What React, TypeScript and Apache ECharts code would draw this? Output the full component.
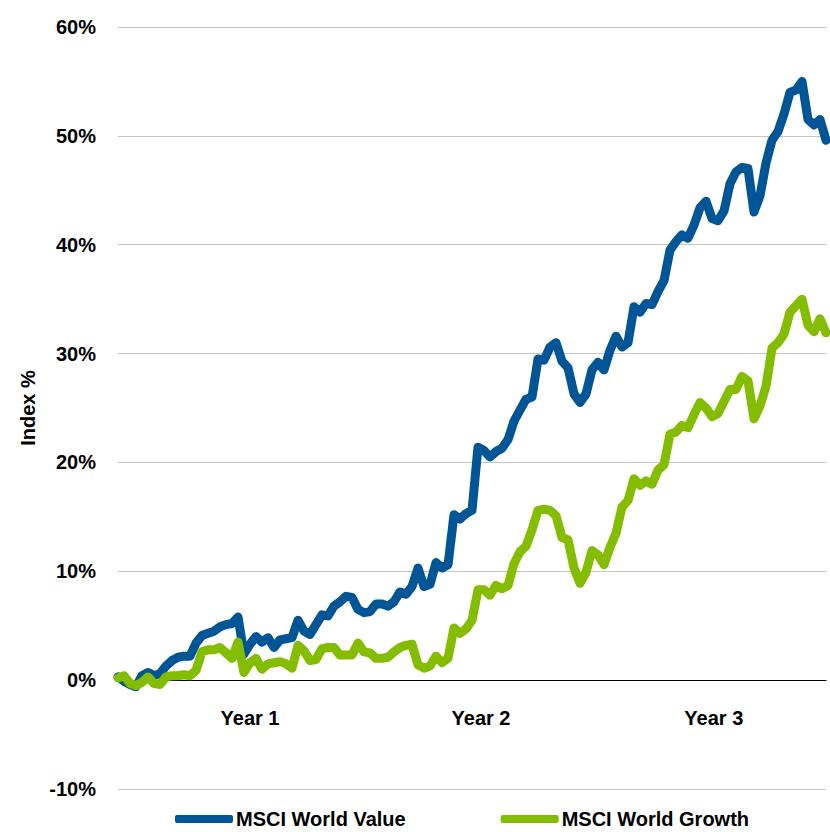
import React, { useEffect, useRef } from "react";
import * as echarts from "echarts";

const valueSeries: number[] = [
  0.3, -0.1, -0.4, -0.6, 0.4, 0.7, 0.4, 0.6, 1.3, 1.8,
  2.1, 2.2, 2.2, 3.4, 4.1, 4.3, 4.5, 4.9, 5.1, 5.2,
  5.8, 2.4, 3.3, 4.0, 3.5, 3.9, 3.0, 3.7, 3.8, 3.9,
  5.5, 4.5, 4.2, 5.1, 6.0, 5.9, 6.8, 7.2, 7.7, 7.6,
  6.5, 6.2, 6.3, 7.0, 7.0, 6.8, 7.2, 8.1, 7.9, 8.6,
  10.3, 8.6, 8.8, 10.8, 10.3, 10.6, 15.2, 14.8, 15.3, 15.6,
  21.4, 21.1, 20.5, 21.0, 21.3, 22.1, 23.8, 24.8, 25.8, 26.0,
  29.5, 29.4, 30.6, 31.0, 29.3, 28.7, 26.3, 25.5, 26.3, 28.5,
  29.2, 28.5, 30.3, 31.6, 30.6, 31.0, 34.3, 33.8, 34.6, 34.5,
  35.7, 36.7, 39.5, 40.3, 40.9, 40.6, 41.8, 43.4, 44.0, 42.4,
  42.2, 43.1, 45.6, 46.7, 47.1, 47.0, 43.0, 44.5, 47.5, 49.6,
  50.4, 52.0, 54.0, 54.2, 55.0, 51.5, 51.0, 51.5, 49.6,
];

const growthSeries: number[] = [
  0.2, 0.4, -0.3, -0.5, -0.2, 0.3, -0.3, -0.4, 0.3, 0.4,
  0.4, 0.5, 0.4, 0.9, 2.6, 2.8, 2.8, 3.0, 2.5, 2.0,
  3.5, 0.7, 1.6, 2.0, 1.0, 1.5, 1.6, 1.7, 1.5, 1.1,
  3.2, 2.7, 1.8, 1.9, 2.9, 3.0, 3.0, 2.3, 2.3, 2.3,
  3.4, 2.6, 2.5, 2.0, 2.0, 2.1, 2.6, 3.0, 3.2, 3.3,
  1.4, 1.1, 1.3, 2.2, 1.6, 2.0, 4.8, 4.3, 4.7, 5.5,
  8.3, 8.3, 7.8, 8.7, 8.4, 8.7, 10.7, 11.8, 12.3, 13.8,
  15.6, 15.7, 15.6, 15.1, 13.1, 12.9, 10.3, 8.9, 9.9, 11.9,
  11.5, 10.6, 12.2, 13.5, 15.9, 16.5, 18.5, 17.9, 18.3, 18.0,
  19.3, 19.8, 22.6, 22.8, 23.4, 23.2, 24.4, 25.5, 25.0, 24.2,
  24.5, 25.6, 26.7, 26.7, 27.9, 27.5, 24.0, 25.2, 27.0, 30.5,
  31.0, 31.8, 33.8, 34.4, 35.0, 32.6, 32.0, 33.2, 31.9,
];

const seriesNames: string[] = ["MSCI World Value", "MSCI World Growth"];
const seriesColors: string[] = ["#005596", "#84bd00"];
const yearLabels: string[] = ["Year 1", "Year 2", "Year 3"];
const yearLabelPositions: number[] = [22, 60.5, 99.3];
const yTicks = { min: -10, max: 60, interval: 10 };

const FONT = "'Liberation Sans Narrow', 'Arial Narrow', 'Liberation Sans', Arial, sans-serif";
const FS = 20;

export default function App() {
  const ref = useRef<HTMLDivElement>(null);

  useEffect(() => {
    if (!ref.current) return;
    const chart = echarts.init(ref.current, undefined, { renderer: "svg" });
    const toPairs = (arr: number[]) => arr.map((v, i) => [i, v]);
    const lineSeries = [valueSeries, growthSeries].map((arr, k) => ({
      type: "line",
      name: seriesNames[k],
      data: toPairs(arr),
      showSymbol: false,
      symbol: "none",
      color: seriesColors[k],
      lineStyle: { width: 9, color: seriesColors[k], cap: "round", join: "round" },
      itemStyle: { color: seriesColors[k] },
      z: 2 + k,
    }));
    chart.setOption({
      animation: false,
      grid: { left: 118, right: 4, top: 27, bottom: 43, outerBoundsMode: "none", containLabel: false },
      xAxis: {
        type: "value",
        min: 0,
        max: valueSeries.length - 1,
        axisLine: { onZero: true, lineStyle: { color: "#000", width: 1.2 } },
        axisTick: { show: false },
        splitLine: { show: false },
        axisLabel: {
          customValues: yearLabelPositions,
          formatter: (val: number) => {
            let best = 0;
            yearLabelPositions.forEach((p, i) => {
              if (Math.abs(p - val) < Math.abs(yearLabelPositions[best] - val)) best = i;
            });
            return yearLabels[best];
          },
          margin: -81,
          fontFamily: FONT,
          fontWeight: "bold",
          fontSize: FS,
          color: "#000",
        },
      },
      yAxis: {
        type: "value",
        min: yTicks.min,
        max: yTicks.max,
        interval: yTicks.interval,
        axisLine: { show: false },
        axisTick: { show: false },
        splitLine: { lineStyle: { color: "#c6c6c6", width: 1 } },
        axisLabel: {
          formatter: "{value}%",
          margin: 22,
          fontFamily: FONT,
          fontWeight: "bold",
          fontSize: FS,
          color: "#000",
        },
        name: "Index %",
        nameLocation: "middle",
        nameRotate: 90,
        nameGap: 76,
        nameTextStyle: { fontFamily: FONT, fontWeight: "bold", fontSize: FS, color: "#000" },
      },
      legend: {
        left: 175,
        top: 809,
        padding: 0,
        icon: "roundRect",
        itemWidth: 58,
        itemHeight: 8,
        itemGap: 95,
        textStyle: { fontFamily: FONT, fontWeight: "bold", fontSize: FS, color: "#000", padding: [0, 0, 0, -2] },
        data: seriesNames,
      },
      series: lineSeries,
    });
    return () => chart.dispose();
  }, []);

  return (
    <div
      ref={ref}
      style={{ position: "fixed", left: 0, top: 0, width: 830, height: 832, background: "#fff" }}
    />
  );
}
